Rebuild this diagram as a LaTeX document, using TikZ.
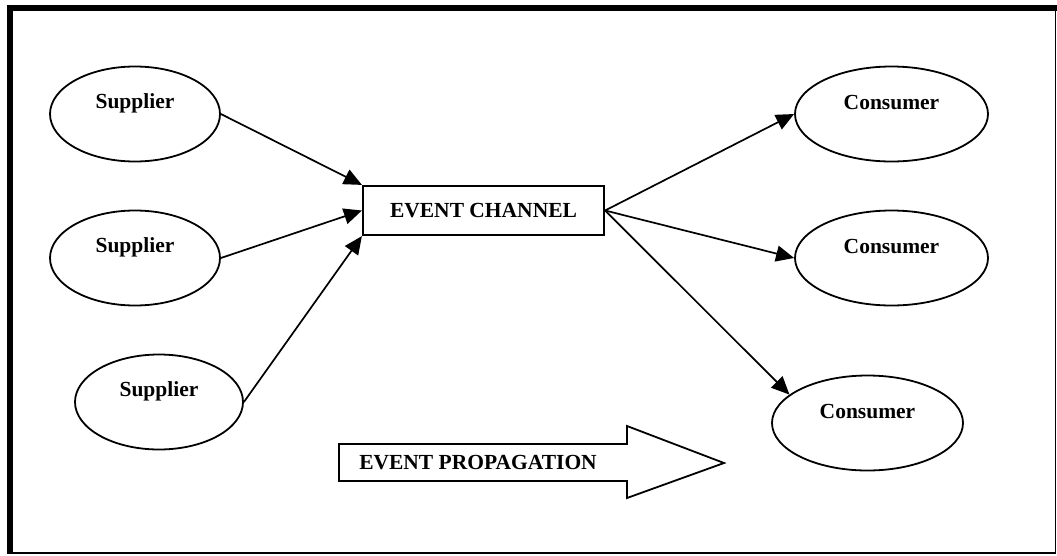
\documentclass[tikz,border=0pt]{standalone}
\usepackage{fontspec}
\setmainfont{Liberation Serif}
\usetikzlibrary{shapes.geometric,arrows.meta,positioning}
\newcommand{\partynode}[4]{%
  \node[party, minimum width=#3] (#1) at (#2) {};
  \node[partylabel] (#1txt) at ([yshift=11pt]#1.center) {#4};}

\tikzset{
  party/.style={ellipse, draw=black, line width=1.8pt, minimum height=95pt, inner sep=0pt},
  partylabel/.style={font=\fontsize{21.5}{25}\selectfont\bfseries, inner sep=0pt},
  channelbox/.style={rectangle, draw=black, line width=2.2pt, minimum width=241pt,
                     minimum height=49pt, inner sep=0pt,
                     font=\fontsize{21.5}{25}\selectfont\bfseries},
  flow/.style={line width=1.7pt, -{Triangle[length=18pt,width=16pt]}},
}

\begin{document}
\begin{tikzpicture}[x=1pt,y=-1pt]
\useasboundingbox (0,0) rectangle (1057,555);

% frame
\draw[line width=1.8pt] (10,8) rectangle (1055.5,553);
\draw[line width=6pt] (10,553.9) -- (10,8) -- (1057,8);

% suppliers and consumers
\partynode{sup1}{135,114}{170pt}{Supplier}
\partynode{sup2}{135,258}{170pt}{Supplier}
\partynode{sup3}{159,402}{168pt}{Supplier}
\partynode{con1}{891.5,114}{193pt}{Consumer}
\partynode{con2}{891.5,258}{193pt}{Consumer}
\partynode{con3}{867.5,423}{191pt}{Consumer}

\node[channelbox] (channel) at (483.5,210.5) {EVENT CHANNEL\hspace{14pt}};

\draw[flow] (sup1.east) -- (channel.north west);
\draw[flow] (sup2.east) -- (channel.west);
\draw[flow] (sup3.east) -- (channel.south west);
\draw[flow] (channel.east) -- (con1.west);
\draw[flow] (channel.east) -- (con2.west);
\draw[flow] (channel.east) -- (con3.160);

% propagation arrow
\draw[line width=1.8pt] (339,444) -- (627,444) -- (627,426) -- (724,463)
  -- (627,498) -- (627,481) -- (339,481) -- cycle;
\node[partylabel] (propagation) at (478,463) {EVENT PROPAGATION};

\end{tikzpicture}
\end{document}
